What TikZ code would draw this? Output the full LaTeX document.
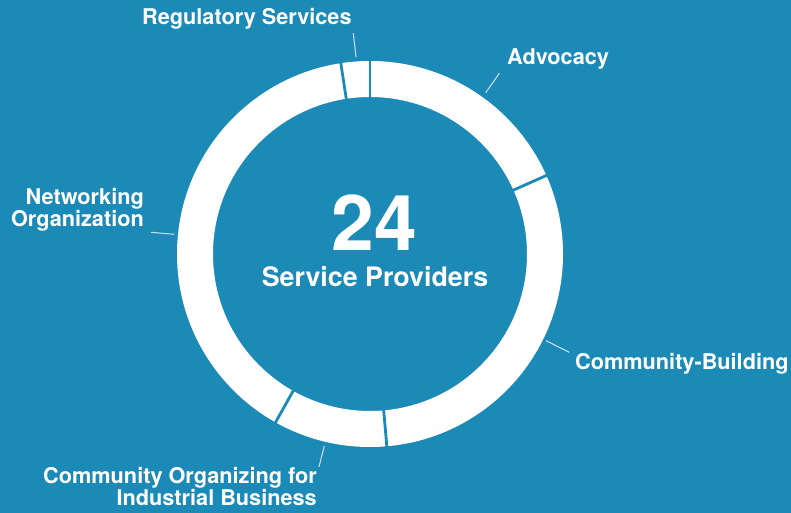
\documentclass[tikz,border=0pt]{standalone}
\usepackage{fontspec}
\setmainfont{TeX Gyre Heros}
\usetikzlibrary{calc}
\definecolor{bg}{HTML}{1C8AB6}
\definecolor{leader}{HTML}{C9D9E1}
\begin{document}
\begin{tikzpicture}[x=1pt,y=1pt]
\tikzset{
  lbl/.style={inner sep=0pt, text=white, font=\fontsize{21.7}{20}\selectfont\bfseries},
  leaderline/.style={draw=leader, line width=1.1pt},
  gapline/.style={draw=bg, line width=2.8pt}
}
\fill[bg] (0,0) rectangle (791,513);
\useasboundingbox (0,0) rectangle (791,513);
\coordinate (c) at (370,259);
% ring
\fill[white,even odd rule] (c) circle (193) (c) circle (157);
\foreach \a in {90,98.7,24,-85,240.7}{
  \draw[gapline] ($(c)+(\a:150)$) -- ($(c)+(\a:200)$);
}
% centre text
\node[lbl, anchor=base, font=\fontsize{77}{77}\selectfont\bfseries] (num) at (374.5,262) {24};
\node[lbl, anchor=base, font=\fontsize{26.8}{26}\selectfont\bfseries] (sp) at (375,226) {Service Providers};
% labels
\node[lbl, anchor=base west] (reg) at (142,488) {Regulatory Services};
\node[lbl, anchor=base west] (adv) at (507,448) {Advocacy};
\node[lbl, anchor=base west] (cb) at (575,143) {Community-Building};
\node[lbl, anchor=base east, align=right] (net) at (144,286.3) {Networking\\Organization};
\node[lbl, anchor=base east, align=right] (co) at (317,7.3) {Community Organizing for\\Industrial Business};
% leader lines
\coordinate (reg1) at (353.3,479.7); \coordinate (reg2) at (356,456);
\coordinate (adv1) at (499.3,439.7); \coordinate (adv2) at (485.7,420.3);
\coordinate (net1) at (151,280.7); \coordinate (net2) at (174.3,278.7);
\coordinate (cb1) at (569.3,160.7); \coordinate (cb2) at (546,172.3);
\coordinate (co1) at (319,46.3); \coordinate (co2) at (324.3,67);
\draw[leaderline] (reg1) -- (reg2);
\draw[leaderline] (adv1) -- (adv2);
\draw[leaderline] (net1) -- (net2);
\draw[leaderline] (cb1) -- (cb2);
\draw[leaderline] (co1) -- (co2);
\end{tikzpicture}
\end{document}
